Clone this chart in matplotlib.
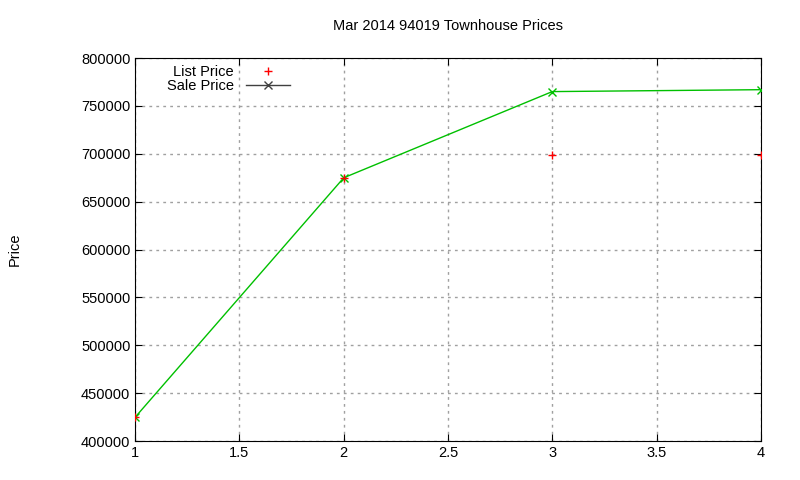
import matplotlib
matplotlib.use("Agg")
import matplotlib.pyplot as plt
from matplotlib.lines import Line2D

x = [1, 2, 3, 4]
list_price = [425000, 675000, 699000, 699000]
sale_price = [425000, 675000, 765000, 767000]

plt.rcParams['font.family'] = ['Liberation Sans', 'DejaVu Sans']
fig = plt.figure(figsize=(8, 4.8), dpi=100)
ax = fig.add_axes([0.169, 0.081, 0.782, 0.798])
ax.plot(x, sale_price, color='#00c000', lw=1, marker='x', ms=6, mew=1, zorder=3)
ax.plot(x, list_price, ls='none', color='red', marker='+', ms=6, mew=1, zorder=4)
ax.set_xlim(1, 4)
ax.set_ylim(400000, 800000)
ax.set_xticks([1, 1.5, 2, 2.5, 3, 3.5, 4])
ax.set_xticklabels(['1', '1.5', '2', '2.5', '3', '3.5', '4'])
ax.set_yticks(range(400000, 800001, 50000))
ax.grid(True, color='#a0a0a0', ls=(0, (2, 3)), lw=1)
ax.tick_params(direction='in', labelsize=10.5, length=5, top=True, right=True)
ax.set_title('Mar 2014 94019 Townhouse Prices', fontsize=10.5, pad=20)
fig.text(0.018, 0.48, 'Price', rotation=90, va='center', ha='center', fontsize=10.5)
handles = [Line2D([], [], ls='none', color='red', marker='+', ms=6),
           Line2D([], [], color='#404040', lw=1, marker='x', ms=6)]
leg = ax.legend(handles, ['List Price', 'Sale Price'], loc='upper left',
                bbox_to_anchor=(0.03, 1.015), frameon=False, markerfirst=False,
                fontsize=10.5, handlelength=3, labelspacing=0.0)
for t in leg.get_texts():
    t.set_ha('right')
fig.savefig('out.png')
